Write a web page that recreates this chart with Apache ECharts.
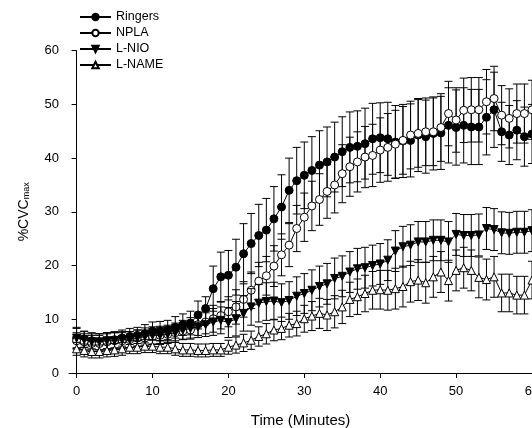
<!DOCTYPE html>
<html><head><meta charset="utf-8">
<script src="https://cdn.jsdelivr.net/npm/echarts@6/dist/echarts.min.js"></script>
<style>html,body{margin:0;padding:0;background:#fff}#c{width:532px;height:428px}</style>
</head><body><div id="c"></div>
<script>
const minutes = [0,1,2,3,4,5,6,7,8,9,10,11,12,13,14,15,16,17,18,19,20,21,22,23,24,25,26,27,28,29,30,31,32,33,34,35,36,37,38,39,40,41,42,43,44,45,46,47,48,49,50,51,52,53,54,55,56,57,58,59,60];

const ringers = [6.5,6.3,6.0,5.8,6.0,6.2,6.5,6.8,7.0,7.3,7.8,7.8,8.0,8.5,9.0,9.3,10.8,12.0,15.7,17.9,18.2,19.7,22.2,24.1,25.6,26.6,28.7,30.9,34.0,35.8,36.8,37.7,38.7,39.3,40.2,41.2,42.0,42.2,42.7,43.6,43.8,43.6,43.0,43.2,43.3,44.3,44.0,44.6,44.7,46.1,45.7,46.1,45.8,45.8,47.6,49.0,44.9,44.3,45.2,44.0,44.5];
const ringersErr = [2.0,1.5,1.5,1.5,1.5,1.5,1.5,1.5,1.5,1.7,1.7,1.8,1.8,2.0,2.0,2.2,2.6,2.2,4.2,4.6,4.6,5.2,5.6,5.6,5.8,5.9,6.0,6.0,6.0,6.2,6.2,6.3,6.4,6.5,6.5,6.5,6.6,6.6,6.6,6.6,6.5,6.8,6.8,6.8,6.8,6.8,6.8,6.8,6.8,7.0,7.0,7.0,7.0,7.0,7.0,7.0,5.5,5.5,5.5,5.5,5.5];

const npla = [6.0,5.8,5.5,5.5,5.8,6.0,6.0,6.2,6.5,6.5,6.8,7.0,7.2,7.5,7.8,8.0,9.0,9.5,10.1,10.7,11.4,12.3,13.7,15.4,17.1,18.1,19.9,22.0,23.8,26.9,29.0,31.1,32.3,33.8,35.0,37.1,38.4,39.3,40.2,40.5,41.5,42.0,42.6,43.3,44.3,44.6,44.9,44.9,45.7,48.3,47.1,48.9,49.0,49.0,50.5,51.1,48.0,47.4,48.3,48.3,49.0];
const nplaErr = [1.5,1.5,1.5,1.5,1.5,1.5,1.5,1.5,1.5,1.5,1.5,1.5,1.5,1.5,1.5,1.5,2.0,2.2,2.5,2.5,2.8,3.2,3.3,3.4,3.5,3.6,3.8,3.9,4.0,4.3,4.5,4.6,4.8,5.0,5.2,5.4,5.5,5.6,5.7,5.8,6.0,6.3,6.3,6.3,6.3,6.3,6.3,6.3,6.3,6.0,6.0,6.0,6.0,6.0,6.0,6.0,5.5,5.5,5.5,5.5,5.5];

const lnio = [6.5,6.2,5.8,5.8,6.0,6.0,6.2,6.2,6.5,6.8,7.0,7.0,7.2,7.5,8.0,8.3,8.6,9.0,9.5,9.8,9.4,10.1,11.1,12.3,13.0,13.3,13.4,13.1,13.5,14.3,14.8,15.4,16.1,16.6,17.6,18.0,18.8,19.4,19.6,20.0,20.3,21.0,22.7,23.5,23.8,24.4,24.4,24.7,24.7,24.4,25.8,25.6,25.6,25.7,26.9,26.7,26.1,26.0,26.2,26.2,26.5];
const lnioErr = [1.8,1.5,1.5,1.5,1.5,1.5,1.5,1.5,1.5,1.6,1.6,1.7,1.7,1.8,1.8,2.0,2.0,2.2,2.5,2.5,2.8,3.2,3.3,3.4,3.5,3.5,3.5,3.5,3.5,3.6,3.7,3.8,3.8,3.8,3.8,3.8,3.8,3.8,3.8,3.8,3.8,3.8,3.8,3.8,3.8,3.8,3.8,3.8,3.8,3.8,3.9,3.9,3.9,3.9,3.9,3.9,3.9,3.9,3.9,3.9,3.9];

const lname = [4.5,4.2,4.0,4.0,4.2,4.3,4.5,4.8,4.8,5.0,5.0,4.8,4.8,4.5,4.3,4.3,4.2,4.2,4.3,4.3,4.8,5.2,5.6,6.1,6.8,7.3,8.0,8.3,8.9,9.2,10.1,10.6,11.1,10.8,11.4,12.3,13.7,14.2,14.8,15.4,15.5,15.4,15.7,16.1,17.0,17.3,16.8,17.9,18.8,17.2,19.1,19.6,19.1,17.8,17.4,17.9,14.9,14.9,14.5,14.5,17.3];
const lnameErr = [1.2,1.2,1.2,1.2,1.2,1.2,1.2,1.2,1.2,1.2,1.2,1.2,1.2,1.2,1.2,1.2,1.2,1.2,1.2,1.2,1.3,1.5,1.6,1.7,1.8,1.9,2.0,2.1,2.2,2.3,2.5,2.7,2.8,2.9,3.0,3.1,3.2,3.3,3.4,3.5,3.6,3.7,3.8,3.8,3.8,3.8,3.8,3.8,3.8,3.8,3.8,3.8,3.8,3.8,3.8,3.8,3.5,3.5,3.5,3.5,3.5];

const xTicks = [0,10,20,30,40,50,60];
const seriesNames = ['Ringers','NPLA','L-NIO','L-NAME'];

const FONT = "'Liberation Sans', Arial, sans-serif";
const downTri = 'path://M0,0 L10,0 L5,9 Z';
const upTri = 'path://M5,0 L10,9 L0,9 Z';

function pairs(vals){ return minutes.map((t,i)=>[t, vals[i]]); }
function errData(vals, errs){ return minutes.map((t,i)=>[t, vals[i]-errs[i], vals[i]+errs[i]]); }

function errRender(params, api){
  const x = api.value(0), lo = api.value(1), hi = api.value(2);
  const p1 = api.coord([x, hi]), p2 = api.coord([x, lo]);
  const w = 4;
  const style = {stroke:'#000', lineWidth:1, fill:null};
  return {type:'group', children:[
    {type:'line', shape:{x1:p1[0],y1:p1[1],x2:p2[0],y2:p2[1]}, style:style},
    {type:'line', shape:{x1:p1[0]-w,y1:p1[1],x2:p1[0]+w,y2:p1[1]}, style:style},
    {type:'line', shape:{x1:p2[0]-w,y1:p2[1],x2:p2[0]+w,y2:p2[1]}, style:style}
  ]};
}

const specs = [
  {name:seriesNames[0], vals:ringers, errs:ringersErr, symbol:'circle', size:8, fill:'#000'},
  {name:seriesNames[1], vals:npla, errs:nplaErr, symbol:'circle', size:8, fill:'#fff'},
  {name:seriesNames[2], vals:lnio, errs:lnioErr, symbol:downTri, size:8, fill:'#000'},
  {name:seriesNames[3], vals:lname, errs:lnameErr, symbol:upTri, size:8, fill:'#fff'}
];

const series = [];
specs.forEach((s, k)=>{
  series.push({
    type:'custom', name:s.name+' err', renderItem:errRender, data:errData(s.vals, s.errs),
    encode:{x:0, y:[1,2]}, z:1+k*2, silent:true
  });
  series.push({
    type:'line', name:s.name, data:pairs(s.vals), symbol:s.symbol, symbolSize:s.size,
    showAllSymbol:true, z:2+k*2,
    lineStyle:{color:'#000', width:1},
    itemStyle:{color:s.fill, borderColor:'#000', borderWidth:1, opacity:1},
    emphasis:{disabled:true}
  });
});

const chart = echarts.init(document.getElementById('c'), null, {renderer:'canvas'});
chart.setOption({
  animation:false,
  backgroundColor:'#fff',
  grid:{left:69, right:0, top:50.7, bottom:55, outerBoundsMode:'none', containLabel:false},
  legend:{
    data:seriesNames, orient:'vertical', left:79, top:10.5, padding:0, itemWidth:31, itemHeight:8, itemGap:3,
    textStyle:{fontFamily:FONT, fontSize:12.5, color:'#000'}, selectedMode:false
  },
  xAxis:{
    type:'value', min:-1, max:60,
    name:'Time (Minutes)', nameLocation:'middle', nameGap:40,
    nameTextStyle:{fontFamily:FONT, fontSize:15, color:'#000'},
    axisLine:{show:true, onZero:false, lineStyle:{color:'#000', width:1}},
    axisTick:{show:true, customValues:xTicks, length:5, lineStyle:{color:'#000'}},
    axisLabel:{customValues:xTicks, margin:12, fontFamily:FONT, fontSize:13, color:'#000'},
    splitLine:{show:false}
  },
  yAxis:{
    type:'value', min:0, max:60, interval:10,
    name:'{a|%CVC}{s|max}', nameLocation:'middle', nameGap:38, nameRotate:90,
    nameTextStyle:{fontFamily:FONT, color:'#000',
      rich:{a:{fontFamily:FONT, fontSize:14, color:'#000', lineHeight:14, verticalAlign:'top'},
            s:{fontFamily:FONT, fontSize:9, color:'#000', lineHeight:9, padding:[8,0,0,0], verticalAlign:'bottom'}}},
    axisLine:{show:true, lineStyle:{color:'#000', width:1}},
    axisTick:{show:true, length:5, lineStyle:{color:'#000'}},
    axisLabel:{margin:10, fontFamily:FONT, fontSize:13, color:'#000'},
    splitLine:{show:false}
  },
  series:series
});
</script></body></html>
